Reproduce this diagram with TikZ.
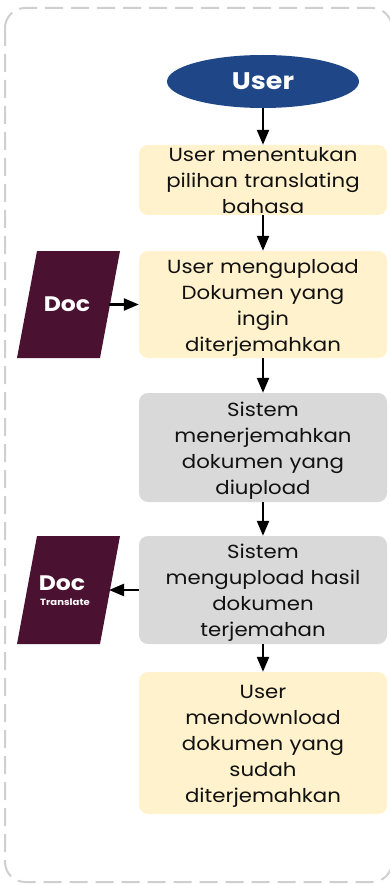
\documentclass[tikz,border=0pt]{standalone}
\usepackage{fontspec}
\setmainfont{Poppins}[FakeStretch=1.12]
\usetikzlibrary{shapes.geometric,arrows.meta}
\definecolor{navy}{HTML}{1F4788}
\definecolor{plum}{HTML}{4A1130}
\definecolor{cream}{HTML}{FFF2CC}
\definecolor{lgray}{HTML}{D9D9D9}
\definecolor{bord}{HTML}{CFCFCF}
\definecolor{ink}{HTML}{111111}
\tikzset{
  flowbox/.style={rounded corners=9pt, minimum width=248pt, inner sep=0pt},
  userbox/.style={flowbox, fill=cream},
  sysbox/.style={flowbox, fill=lgray},
  boxtext/.style={text width=240pt, align=center, inner sep=0pt,
    font=\fontsize{19}{26}\selectfont, text=ink},
  docshape/.style={fill=plum},
  doctext/.style={text=white, font=\bfseries\fontsize{21}{24}\selectfont, align=center},
  arr/.style={line width=2.3pt, -{Triangle[length=15pt,width=12pt]}}
}
\begin{document}
\begin{tikzpicture}[x=1pt,y=-1pt]
\useasboundingbox (0,0) rectangle (390,885);
\draw[bord, line width=2pt, dash pattern=on 18pt off 8pt, rounded corners=20pt] (5,8) rectangle (392,882);

\node[ellipse, fill=navy, minimum width=192pt, minimum height=53pt, inner sep=0pt,
  text=white, font=\bfseries\fontsize{24}{28}\selectfont] (user) at (263,81.5) {User};

\node[userbox, minimum height=70pt] (b1) at (263,180) {};
\node[boxtext] (t1) at ([yshift=-1pt]b1.center) {User menentukan\\pilihan translating\\bahasa};
\node[userbox, minimum height=107pt] (b2) at (263,304.5) {};
\node[boxtext] (t2) at ([yshift=-3pt]b2.center) {User mengupload\\Dokumen yang\\ingin\\diterjemahkan};
\node[sysbox, minimum height=109pt] (b3) at (263,447.5) {};
\node[boxtext] (t3) at ([yshift=-3pt]b3.center) {Sistem\\menerjemahkan\\dokumen yang\\diupload};
\node[sysbox, minimum height=108pt] (b4) at (263,590) {};
\node[boxtext] (t4) at ([yshift=-3pt]b4.center) {Sistem\\mengupload hasil\\dokumen\\terjemahan};
\node[userbox, minimum height=142pt] (b5) at (263,743) {};
\node[boxtext] (t5) at ([yshift=-3pt]b5.center) {User\\mendownload\\dokumen yang\\sudah\\diterjemahkan};

\fill[docshape] (37,251) -- (120,251) -- (100,358) -- (17,358) -- cycle;
\node[doctext] (d1) at (67,304) {Doc};
\coordinate (d1r) at (109,304.5);

\fill[docshape] (37,536) -- (120,536) -- (100,644) -- (17,644) -- cycle;
\node[doctext] (d2) at (62,583) {Doc};
\node[text=white, font=\bfseries\fontsize{9}{11}\selectfont] (d2t) at (65,602) {Translate};
\coordinate (d2r) at (109,590);

\draw[arr] (user) -- (b1);
\draw[arr] (b1) -- (b2);
\draw[arr] (d1r) -- (b2.west |- d1r);
\draw[arr] (b2) -- (b3);
\draw[arr] (b3) -- (b4);
\draw[arr] (b4.west |- d2r) -- (d2r);
\draw[arr] (b4) -- (b5);
\end{tikzpicture}
\end{document}
